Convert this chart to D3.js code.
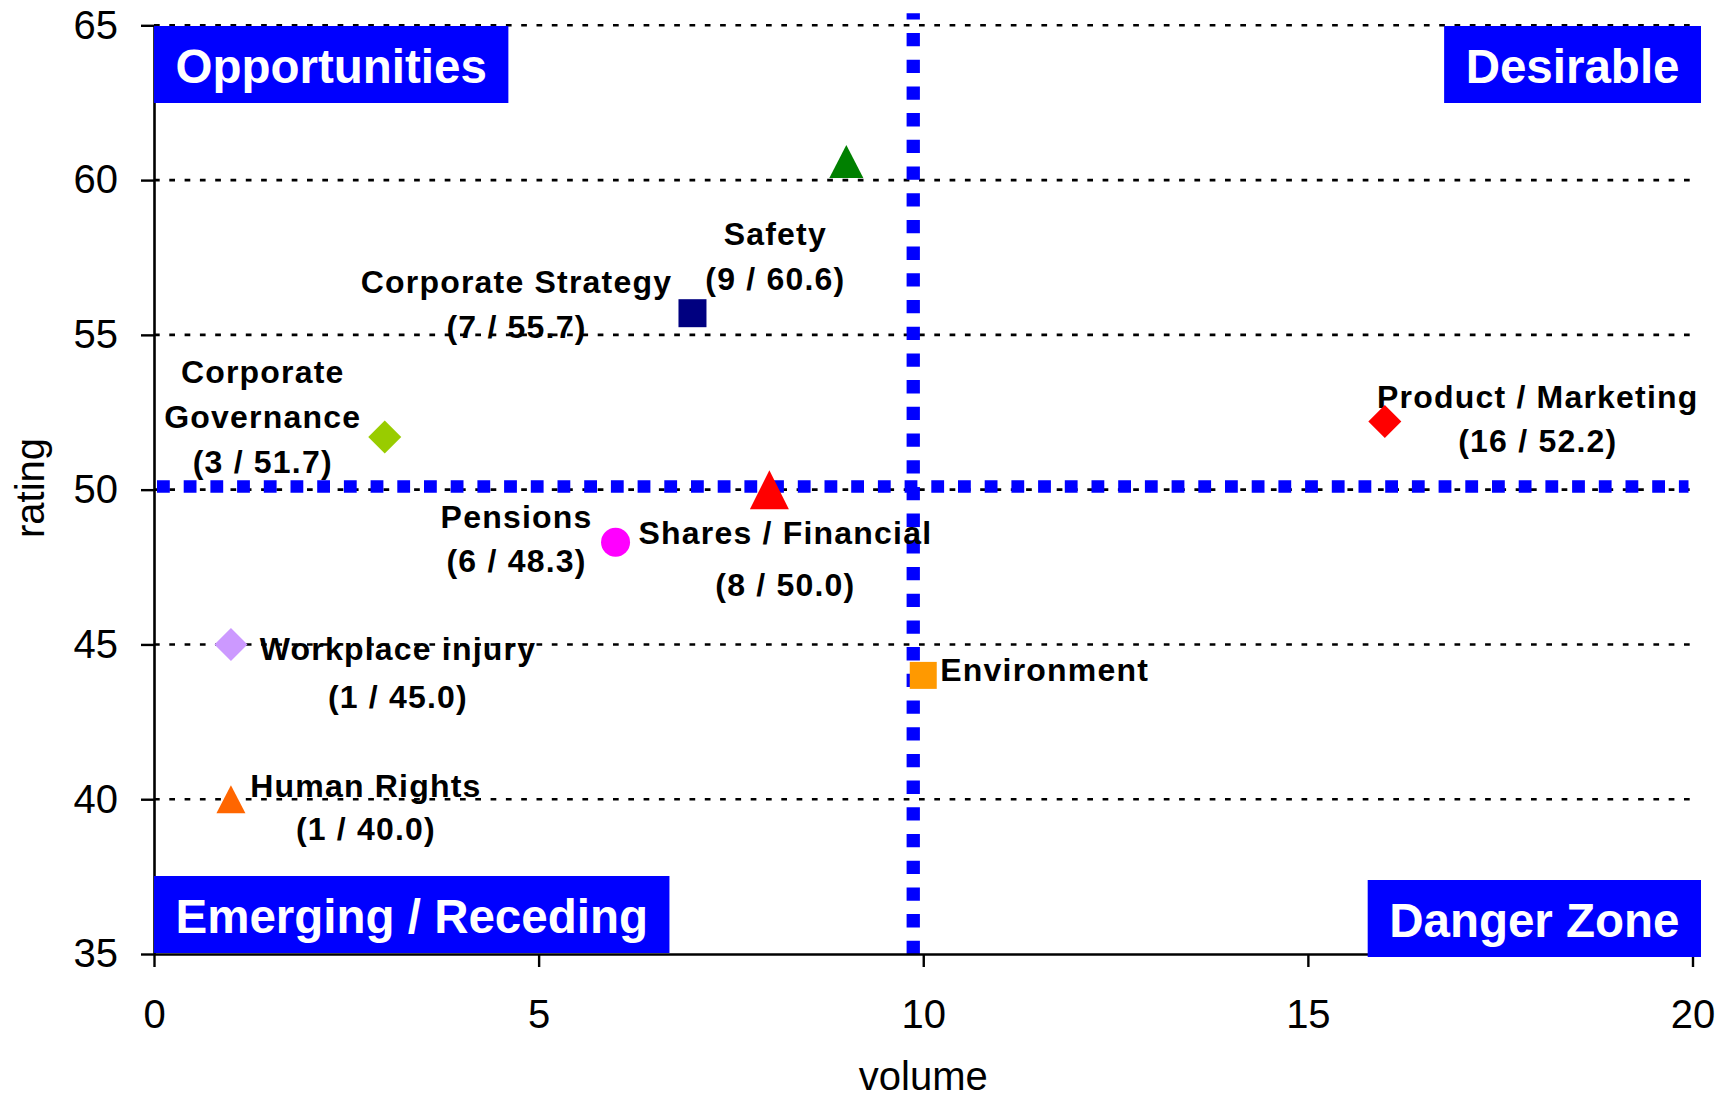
<!DOCTYPE html>
<html>
<head>
<meta charset="utf-8">
<script src="https://cdn.jsdelivr.net/npm/d3@7"></script>
<style>
  body { margin: 0; background: #fff; }
  svg { display: block; }
  text { font-family: "Liberation Sans", Arial, Helvetica, sans-serif; }
</style>
</head>
<body>
<svg id="chart" width="1723" height="1099"></svg>
<script>
// ---- data ----
const topics   = ["Safety", "Corporate Strategy", "Corporate Governance", "Product / Marketing",
                  "Pensions", "Shares / Financial", "Workplace injury", "Environment", "Human Rights"];
const volumes  = [9, 7, 3, 16, 6, 8, 1, 10, 1];
const ratings  = [60.6, 55.7, 51.7, 52.2, 48.3, 50.0, 45.0, 44.0, 40.0];
const showValue = [true, true, true, true, true, true, true, false, true];

const xTicks = [0, 5, 10, 15, 20];
const yTicks = [35, 40, 45, 50, 55, 60, 65];
const gridRatings = [40, 45, 50, 55, 60, 65];

const quadrantNames = ["Opportunities", "Desirable", "Emerging / Receding", "Danger Zone"];
const splitVolume = 9.87;   // vertical divider
const splitRating = 50.1;   // horizontal divider

// ---- marker styling ----
const markerShape = ["triangle", "square", "diamond", "diamond", "circle", "triangle", "diamond", "square", "triangle"];
const markerColor = ["#008000", "#000080", "#99CC00", "#FF0000", "#FF00FF", "#FF0000", "#CC99FF", "#FF9900", "#FF6600"];
const markerSize  = [[34, 33], [28, 28], [33, 33], [33, 33], [29, 29], [39, 39], [33, 33], [27, 27], [29, 28]];

// label placement relative to the marker centre (first baseline), line gap
const labelLayout = [
  { dx: -71,  dy: 83.5,  gap: 45 },
  { dx: -176, dy: -20,   gap: 45 },
  { dx: -122, dy: -54,   gap: 45, wrap: true },
  { dx: 153,  dy: -13.6, gap: 44 },
  { dx: -99,  dy: -14,   gap: 44 },
  { dx: 16,   dy: 54,    gap: 52.7 },
  { dx: 167,  dy: 16,    gap: 48 },
  { dx: 17,   dy: 6,     gap: 0, anchor: "start" },
  { dx: 135,  dy: -2.5,  gap: 43 }
];

// ---- scales ----
const svg = d3.select("#chart");
const x = d3.scaleLinear().domain([0, 20]).range([154, 1692.5]);
const y = d3.scaleLinear().domain([35, 65]).range([954, 25.3]);

// ---- dotted grid ----
svg.append("g").selectAll("line").data(gridRatings).join("line")
  .attr("x1", x(0)).attr("x2", x(20))
  .attr("y1", d => y(d)).attr("y2", d => y(d))
  .attr("stroke", "#000").attr("stroke-width", 2.6)
  .attr("stroke-dasharray", "5.7,9.6");

// ---- quadrant dividers ----
svg.append("line")
  .attr("x1", x(splitVolume)).attr("x2", x(splitVolume))
  .attr("y1", y(65) - 12).attr("y2", y(35))
  .attr("stroke", "#0000FF").attr("stroke-width", 13.3)
  .attr("stroke-dasharray", "13.3,13.4").attr("stroke-dashoffset", 7);
svg.append("line")
  .attr("x1", x(0) + 3).attr("x2", x(20) - 4)
  .attr("y1", y(splitRating)).attr("y2", y(splitRating))
  .attr("stroke", "#0000FF").attr("stroke-width", 12.5)
  .attr("stroke-dasharray", "12.8,13.9");

// ---- axes ----
const axisY = svg.append("g").attr("transform", `translate(${x(0)},0)`)
  .call(d3.axisLeft(y).tickValues(yTicks).tickSize(13).tickSizeOuter(0).tickPadding(23));
const axisX = svg.append("g").attr("transform", `translate(0,${y(35)})`)
  .call(d3.axisBottom(x).tickValues(xTicks).tickSize(13).tickSizeOuter(0).tickPadding(32.6));
[axisY, axisX].forEach(a => {
  a.select(".domain").attr("stroke", "#000").attr("stroke-width", 2.6);
  a.selectAll(".tick line").attr("stroke", "#000").attr("stroke-width", 2.4);
  a.selectAll(".tick text").attr("fill", "#000")
    .style("font-size", "40px").style("font-family", "'Liberation Sans', Arial, sans-serif");
});

svg.append("text").attr("transform", "translate(44,488) rotate(-90)")
  .attr("text-anchor", "middle").style("font-size", "40px").text("rating");
svg.append("text").attr("x", x(10)).attr("y", 1090)
  .attr("text-anchor", "middle").style("font-size", "40px").text("volume");

// ---- point labels ----
const points = topics.map((t, i) => ({
  topic: t, v: volumes[i], r: ratings[i], show: showValue[i],
  shape: markerShape[i], color: markerColor[i], size: markerSize[i], lay: labelLayout[i]
}));

const labels = svg.append("g").selectAll("text").data(points).join("text")
  .attr("text-anchor", d => d.lay.anchor || "middle")
  .style("font-size", "32px").style("font-weight", "bold").style("letter-spacing", "1.2px")
  .attr("fill", "#000");
labels.each(function(d) {
  const lines = d.lay.wrap ? d.topic.split(" ") : [d.topic];
  if (d.show) lines.push(`(${d.v} / ${d.r.toFixed(1)})`);
  const t = d3.select(this);
  lines.forEach((ln, k) => {
    t.append("tspan")
      .attr("x", x(d.v) + d.lay.dx)
      .attr("y", y(d.r) + d.lay.dy + k * d.lay.gap)
      .text(ln);
  });
});

// ---- markers ----
function markerPath(shape, w, h) {
  if (shape === "triangle") return `M0,${-h / 2}L${w / 2},${h / 2}L${-w / 2},${h / 2}Z`;
  if (shape === "square")   return `M${-w / 2},${-h / 2}h${w}v${h}h${-w}Z`;
  if (shape === "diamond")  return `M0,${-h / 2}L${w / 2},0L0,${h / 2}L${-w / 2},0Z`;
  return d3.symbol(d3.symbolCircle, Math.PI * (w / 2) * (w / 2))();
}
svg.append("g").selectAll("path").data(points).join("path")
  .attr("transform", d => `translate(${x(d.v)},${y(d.r)})`)
  .attr("d", d => markerPath(d.shape, d.size[0], d.size[1]))
  .attr("fill", d => d.color);

// ---- quadrant captions ----
const boxes = [
  { name: quadrantNames[0], side: "left",  top: 26 },
  { name: quadrantNames[1], side: "right", top: 26 },
  { name: quadrantNames[2], side: "left",  top: 876 },
  { name: quadrantNames[3], side: "right", top: 880 }
];
const boxPad = 21.5;
const boxG = svg.append("g");
boxes.forEach(b => {
  const g = boxG.append("g");
  const rect = g.append("rect").attr("fill", "#0000FF");
  const txt = g.append("text").attr("fill", "#fff")
    .style("font-size", "47.5px").style("font-weight", "bold").text(b.name);
  const w = txt.node().getComputedTextLength() + 2 * boxPad;
  const left = b.side === "left" ? x(0) : 1701 - w;
  rect.attr("x", left).attr("y", b.top).attr("width", w).attr("height", 77);
  txt.attr("x", left + boxPad).attr("y", b.top + 56.7);
});
</script>
</body>
</html>
